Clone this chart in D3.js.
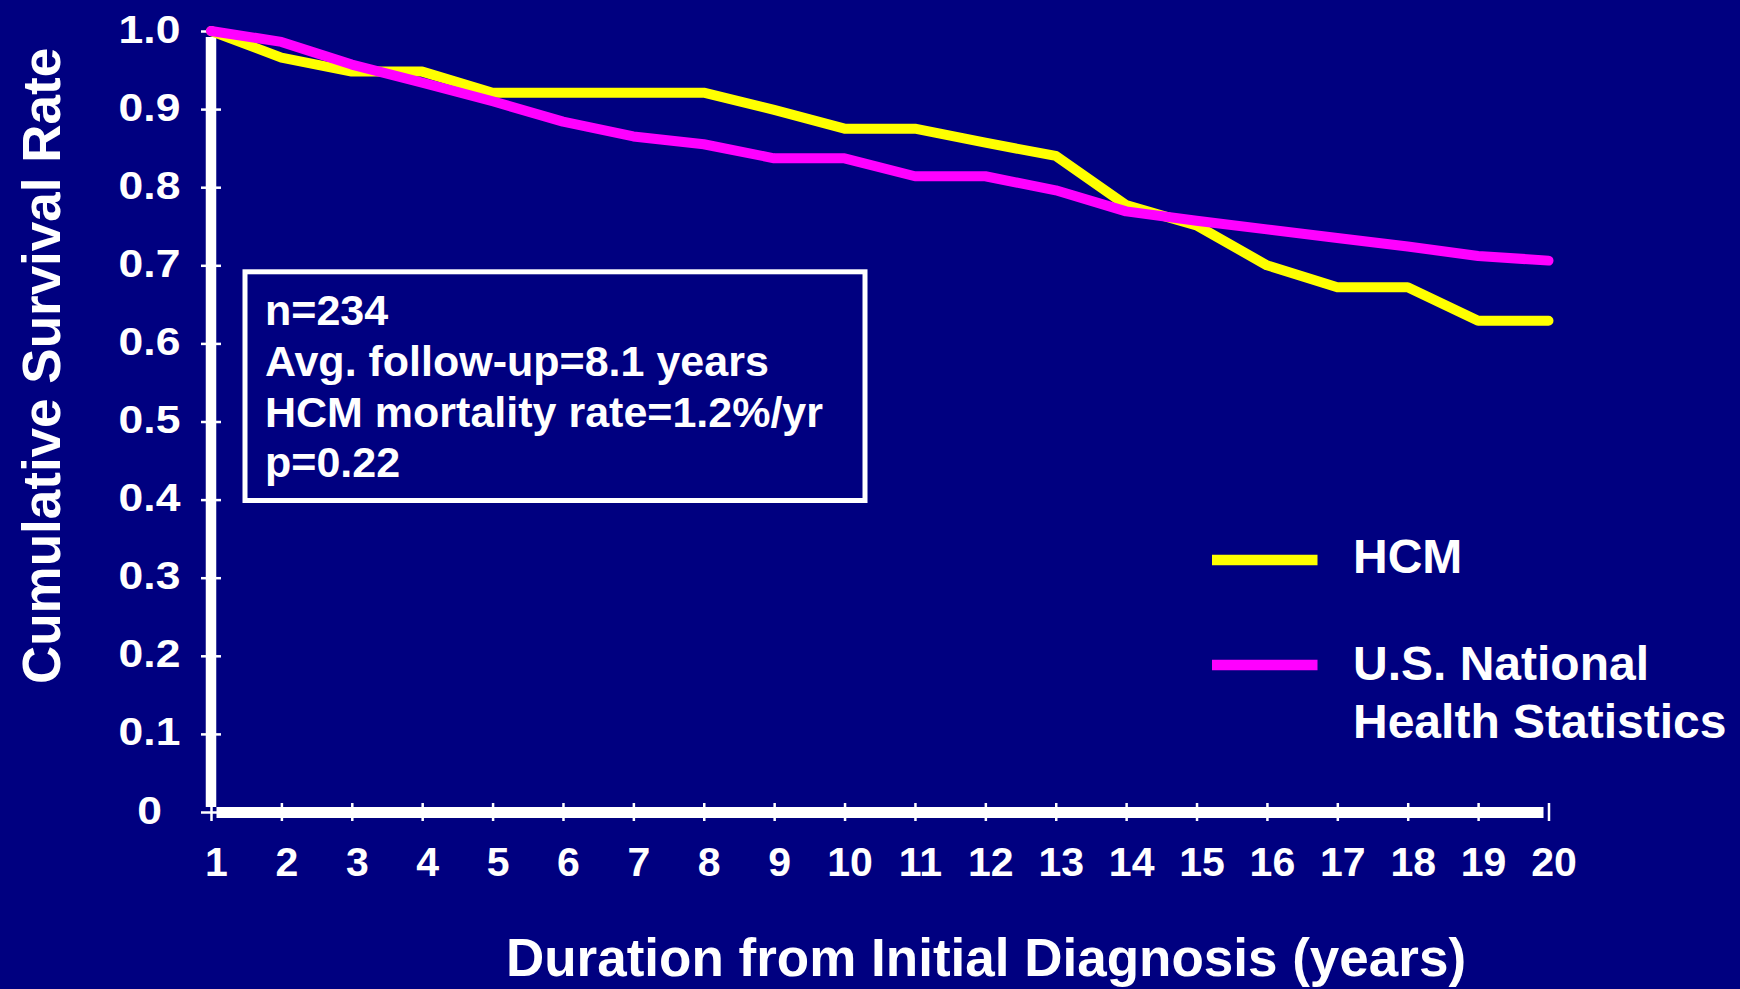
<!DOCTYPE html>
<html>
<head>
<meta charset="utf-8">
<script src="https://cdn.jsdelivr.net/npm/d3@7/dist/d3.min.js"></script>
<style>
  html, body { margin: 0; padding: 0; background: #000080; }
  svg { display: block; }
  text { font-family: "Liberation Sans", Arial, Helvetica, sans-serif; font-weight: bold; fill: #ffffff; }
</style>
</head>
<body>
<svg id="chart" width="1740" height="989"></svg>
<script>
// Years since initial diagnosis (x categories / tick labels)
const years = [1, 2, 3, 4, 5, 6, 7, 8, 9, 10, 11, 12, 13, 14, 15, 16, 17, 18, 19, 20];
// Cumulative survival, HCM cohort
const hcmSurvival = [1.0, 0.966, 0.948, 0.948, 0.921, 0.921, 0.921, 0.921, 0.899, 0.875,
                     0.875, 0.857, 0.840, 0.777, 0.751, 0.700, 0.672, 0.672, 0.629, 0.629];
// Cumulative survival, U.S. National Health Statistics (expected)
const usSurvival = [1.0, 0.986, 0.957, 0.934, 0.910, 0.884, 0.865, 0.855, 0.837, 0.837,
                    0.814, 0.814, 0.796, 0.769, 0.757, 0.746, 0.735, 0.724, 0.712, 0.706];
// Y axis tick values and labels
const yTicks = [0, 0.1, 0.2, 0.3, 0.4, 0.5, 0.6, 0.7, 0.8, 0.9, 1.0];
const yTickLabels = ["0", "0.1", "0.2", "0.3", "0.4", "0.5", "0.6", "0.7", "0.8", "0.9", "1.0"];
// Summary statistics box
const statLines = ["n=234", "Avg. follow-up=8.1 years", "HCM mortality rate=1.2%/yr", "p=0.22"];
// Legend entries
const seriesNames = ["HCM", "U.S. National\nHealth Statistics"];
const seriesColors = ["#ffff00", "#ff00ff"];

const svg = d3.select("#chart");
const W = 1740, H = 989;
svg.append("rect").attr("width", W).attr("height", H).attr("fill", "#000080");

const x = d3.scaleLinear().domain([1, 20]).range([211, 1548.5]);
const y = d3.scaleLinear().domain([0, 1]).range([812, 31]);

// ----- axes -----
const xAxis = d3.axisBottom(x).tickValues(years).tickSize(0).tickFormat(d => d);
const gx = svg.append("g").attr("transform", `translate(0,${y(0)})`).call(xAxis);
gx.select(".domain").remove();
gx.selectAll(".tick line").attr("y1", -9).attr("y2", 9)
  .attr("stroke", "#fff").attr("stroke-width", 2.5);
gx.selectAll(".tick text")
  .attr("font-size", 41).attr("font-family", null)
  .attr("fill", "#fff").attr("dy", null).attr("y", 64).attr("x", 5);

const yAxis = d3.axisLeft(y).tickValues(yTicks).tickSize(0)
  .tickFormat((d, i) => yTickLabels[i]);
const gy = svg.append("g").attr("transform", `translate(${x(1)},0)`).call(yAxis);
gy.select(".domain").remove();
gy.selectAll(".tick line").attr("x1", -10).attr("x2", 10)
  .attr("stroke", "#fff").attr("stroke-width", 2.5);
// y labels are set slightly wide
gy.selectAll(".tick text")
  .attr("font-size", 39).attr("font-family", null).attr("fill", "#fff")
  .attr("text-anchor", "middle").attr("x", 0).attr("y", 0).attr("dy", null)
  .attr("transform", `translate(${149.5 - x(1)},11) scale(1.14,1)`);

// heavy axis strokes
svg.append("line")
  .attr("x1", x(1)).attr("x2", x(1))
  .attr("y1", y(1) + 6).attr("y2", y(0) - 5)
  .attr("stroke", "#fff").attr("stroke-width", 10.5);
svg.append("line")
  .attr("x1", x(1) + 5.5).attr("x2", x(20) - 5)
  .attr("y1", y(0) + 0.5).attr("y2", y(0) + 0.5)
  .attr("stroke", "#fff").attr("stroke-width", 11);

// ----- survival curves -----
const line = d3.line().x((d, i) => x(years[i])).y(d => y(d));
[hcmSurvival, usSurvival].forEach((series, k) => {
  svg.append("path")
    .datum(series)
    .attr("d", line)
    .attr("fill", "none")
    .attr("stroke", seriesColors[k])
    .attr("stroke-width", 10)
    .attr("stroke-linecap", "round")
    .attr("stroke-linejoin", "round");
});

// ----- statistics box -----
svg.append("rect")
  .attr("x", 245).attr("y", 271.8).attr("width", 620).attr("height", 228.7)
  .attr("fill", "none").attr("stroke", "#fff").attr("stroke-width", 5);
const baselines = [325, 376, 426.5, 477];
svg.append("g").selectAll("text").data(statLines).join("text")
  .attr("x", 265).attr("y", (d, i) => baselines[i])
  .attr("font-size", 43).text(d => d);

// ----- legend -----
const legendY = [560, 665];
const legendBase = [573, 680];
seriesNames.forEach((name, k) => {
  svg.append("line")
    .attr("x1", 1212).attr("x2", 1317.5)
    .attr("y1", legendY[k]).attr("y2", legendY[k])
    .attr("stroke", seriesColors[k]).attr("stroke-width", 10.5);
  const t = svg.append("text").attr("x", 1353).attr("font-size", 48)
    .attr("y", legendBase[k]);
  name.split("\n").forEach((part, j) => {
    t.append("tspan").attr("x", 1353).attr("dy", j === 0 ? 0 : 58).text(part);
  });
});

// ----- axis titles -----
svg.append("text")
  .attr("transform", "translate(60,366) rotate(-90)")
  .attr("text-anchor", "middle").attr("font-size", 53)
  .text("Cumulative Survival Rate");
svg.append("text")
  .attr("x", 986).attr("y", 976)
  .attr("text-anchor", "middle").attr("font-size", 53)
  .text("Duration from Initial Diagnosis (years)");
</script>
</body>
</html>
